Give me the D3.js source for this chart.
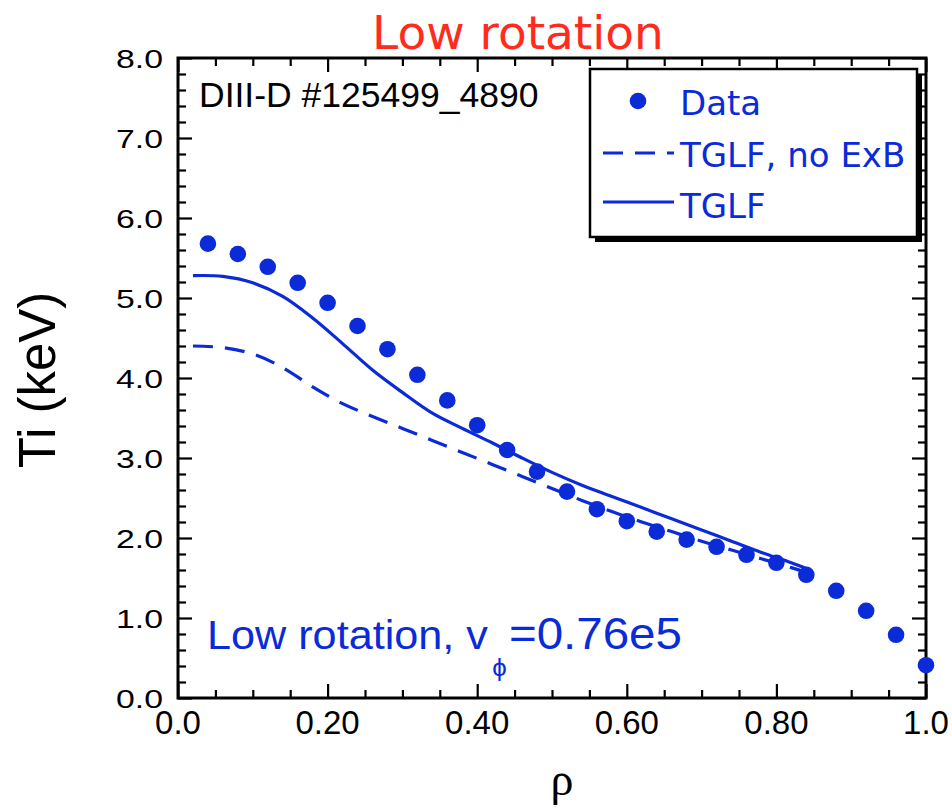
<!DOCTYPE html>
<html>
<head>
<meta charset="utf-8">
<script src="https://cdn.jsdelivr.net/npm/d3@7/dist/d3.min.js"></script>
<style>
  body { margin: 0; background: #fff; }
</style>
</head>
<body>
<div id="chart-area"></div>
<script>
// Measured points (rho, Ti in keV)
var rhoData = [0.04, 0.08, 0.12, 0.16, 0.20, 0.24, 0.28, 0.32, 0.36, 0.40, 0.44, 0.48, 0.52,
               0.56, 0.60, 0.64, 0.68, 0.72, 0.76, 0.80, 0.84, 0.88, 0.92, 0.96, 1.00];
var tiData = [5.68, 5.55, 5.39, 5.19, 4.94, 4.65, 4.36, 4.04, 3.72, 3.41, 3.10, 2.83, 2.58,
              2.36, 2.21, 2.08, 1.98, 1.89, 1.79, 1.69, 1.54, 1.34, 1.09, 0.79, 0.41];

// TGLF predictions
var rhoTglf = [0.02, 0.06, 0.10, 0.14, 0.18, 0.22, 0.26, 0.30, 0.34, 0.38, 0.42, 0.46,
               0.50, 0.54, 0.58, 0.62, 0.66, 0.70, 0.74, 0.78, 0.82, 0.84];
var tiTglf = [5.28, 5.27, 5.19, 5.02, 4.75, 4.43, 4.10, 3.82, 3.56, 3.37, 3.19, 3.00,
              2.82, 2.66, 2.52, 2.38, 2.24, 2.10, 1.96, 1.82, 1.69, 1.62];
var tiNoExB = [4.40, 4.38, 4.30, 4.13, 3.89, 3.68, 3.52, 3.37, 3.22, 3.07, 2.92, 2.77,
               2.62, 2.47, 2.33, 2.20, 2.08, 1.96, 1.85, 1.74, 1.63, 1.57];

// Ticks
var xTicks = [0, 0.2, 0.4, 0.6, 0.8, 1.0];
var xTickLabels = ["0.0", "0.20", "0.40", "0.60", "0.80", "1.0"];
var yTicks = [0, 1, 2, 3, 4, 5, 6, 7, 8];
var yTickLabels = ["0.0", "1.0", "2.0", "3.0", "4.0", "5.0", "6.0", "7.0", "8.0"];

var legendLabels = ["Data", "TGLF, no ExB", "TGLF"];

var blue = "#0b2ad8";

// Margins
var margin = { left: 178, right: 26, top: 58, bottom: 109 },
    width = 952 - margin.left - margin.right,
    height = 807 - margin.top - margin.bottom;

var svg = d3.select("#chart-area").append("svg")
    .attr("width", width + margin.left + margin.right)
    .attr("height", height + margin.top + margin.bottom);

var g = svg.append("g")
    .attr("transform", "translate(" + margin.left + "," + margin.top + ")");

// Scales
var x = d3.scaleLinear().domain([0, 1]).range([0, width]);
var y = d3.scaleLinear().domain([0, 8]).range([height, 0]);

var xMinor = d3.range(0, 1.0001, 0.05).filter(function(d) { return Math.abs(d * 5 - Math.round(d * 5)) > 1e-6; });
var yMinor = d3.range(0, 8.0001, 0.2).filter(function(d) { return Math.abs(d - Math.round(d)) > 1e-6; });

// Axis helper: ticks pointing inward on all four sides
function drawAxis(axisFn, scale, values, size, transform) {
    var ax = g.append("g")
        .attr("transform", transform)
        .call(axisFn(scale).tickValues(values).tickSize(size).tickSizeOuter(0).tickFormat(""));
    ax.select(".domain").remove();
    ax.selectAll("line").attr("stroke", "#000").attr("stroke-width", 2.2);
}

drawAxis(d3.axisBottom, x, xTicks, -14, "translate(0," + height + ")");
drawAxis(d3.axisBottom, x, xMinor, -8, "translate(0," + height + ")");
drawAxis(d3.axisTop, x, xTicks, -14, "translate(0,0)");
drawAxis(d3.axisTop, x, xMinor, -8, "translate(0,0)");
drawAxis(d3.axisLeft, y, yTicks, -14, "translate(0,0)");
drawAxis(d3.axisLeft, y, yMinor, -8, "translate(0,0)");
drawAxis(d3.axisRight, y, yTicks, -14, "translate(" + width + ",0)");
drawAxis(d3.axisRight, y, yMinor, -8, "translate(" + width + ",0)");

// Frame
g.append("rect")
    .attr("width", width)
    .attr("height", height)
    .attr("fill", "none")
    .attr("stroke", "#000")
    .attr("stroke-width", 3);

// Tick labels
g.append("g").selectAll("text")
    .data(xTicks)
    .join("text")
    .attr("x", function(d) { return x(d); })
    .attr("y", height + 36)
    .attr("text-anchor", "middle")
    .attr("font-family", "Liberation Sans, Arial, sans-serif")
    .attr("font-size", "33px")
    .text(function(d, i) { return xTickLabels[i]; });

g.append("g").selectAll("text")
    .data(yTicks)
    .join("text")
    .attr("transform", function(d) { return "translate(-15," + (y(d) + 10) + ") scale(1.3,1)"; })
    .attr("text-anchor", "end")
    .attr("font-family", "Liberation Sans, Arial, sans-serif")
    .attr("font-size", "26px")
    .text(function(d, i) { return yTickLabels[i]; });

// Axis titles
svg.append("text")
    .attr("transform", "translate(55," + (margin.top + y(4) + 2) + ") rotate(-90)")
    .attr("text-anchor", "middle")
    .attr("font-family", "Liberation Sans, Arial, sans-serif")
    .attr("font-size", "51px")
    .text("Ti (keV)");

svg.append("text")
    .attr("x", 562)
    .attr("y", 795)
    .attr("text-anchor", "middle")
    .attr("font-family", "Liberation Serif, Times New Roman, serif")
    .attr("font-size", "46px")
    .text("ρ");

// Title
svg.append("text")
    .attr("x", 518)
    .attr("y", 49)
    .attr("text-anchor", "middle")
    .attr("font-family", "DejaVu Sans, sans-serif")
    .attr("font-size", "47px")
    .attr("fill", "#ff2b1c")
    .text("Low rotation");

// Annotations
g.append("text")
    .attr("x", 21)
    .attr("y", 49)
    .attr("font-family", "Liberation Sans, Arial, sans-serif")
    .attr("font-size", "35.5px")
    .attr("fill", "#000")
    .text("DIII-D #125499_4890");

var note = g.append("text")
    .attr("transform", "translate(29," + y(0.61) + ") scale(1.08,1)")
    .attr("font-family", "Liberation Sans, Arial, sans-serif")
    .attr("font-size", "40px")
    .attr("fill", blue);
note.append("tspan").text("Low rotation, v");
note.append("tspan").attr("dx", 4).attr("dy", 27).attr("font-size", "24px").text("ϕ");
note.append("tspan").attr("dx", 2).attr("dy", -27).attr("font-size", "44px").text("=0.76e5");

// Lines
var line = d3.line()
    .x(function(d) { return x(d[0]); })
    .y(function(d) { return y(d[1]); })
    .curve(d3.curveCatmullRom);

g.append("path")
    .datum(d3.zip(rhoTglf, tiNoExB))
    .attr("fill", "none")
    .attr("stroke", blue)
    .attr("stroke-width", 3.2)
    .attr("stroke-dasharray", "20,12")
    .attr("d", line);

g.append("path")
    .datum(d3.zip(rhoTglf, tiTglf))
    .attr("fill", "none")
    .attr("stroke", blue)
    .attr("stroke-width", 3.2)
    .attr("d", line);

// Data points
g.append("g").selectAll("circle")
    .data(d3.zip(rhoData, tiData))
    .join("circle")
    .attr("cx", function(d) { return x(d[0]); })
    .attr("cy", function(d) { return y(d[1]); })
    .attr("r", 8.3)
    .attr("fill", blue);

// Legend
var legend = svg.append("g").attr("transform", "translate(590,69)");
legend.append("rect")
    .attr("x", 5).attr("y", 5)
    .attr("width", 327).attr("height", 168)
    .attr("fill", "#000");
legend.append("rect")
    .attr("width", 327).attr("height", 168)
    .attr("fill", "#fff")
    .attr("stroke", "#000")
    .attr("stroke-width", 2.5);

legend.append("circle")
    .attr("cx", 48).attr("cy", 32).attr("r", 8.3)
    .attr("fill", blue);
legend.append("line")
    .attr("x1", 13).attr("x2", 84).attr("y1", 84).attr("y2", 84)
    .attr("stroke", blue).attr("stroke-width", 3.2)
    .attr("stroke-dasharray", "20,12");
legend.append("line")
    .attr("x1", 13).attr("x2", 84).attr("y1", 133).attr("y2", 133)
    .attr("stroke", blue).attr("stroke-width", 3.2);

legend.selectAll("text.lab")
    .data(legendLabels)
    .join("text")
    .attr("class", "lab")
    .attr("x", 90)
    .attr("y", function(d, i) { return 46 + i * 51.5; })
    .attr("font-family", "DejaVu Sans, sans-serif")
    .attr("font-size", "34px")
    .attr("fill", blue)
    .text(function(d) { return d; });
</script>
</body>
</html>
